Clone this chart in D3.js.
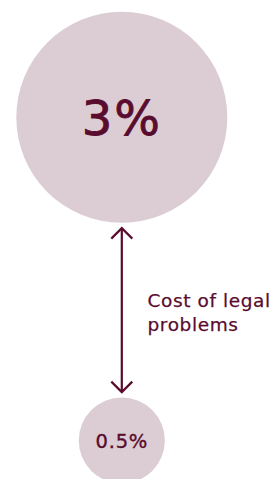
<!DOCTYPE html>
<html>
<head>
<meta charset="utf-8">
<script src="https://cdn.jsdelivr.net/npm/d3@7"></script>
<style>
  body { margin: 0; background: #fff; }
  svg { display: block; }
  text { font-family: "DejaVu Sans", sans-serif; }
</style>
</head>
<body>
<svg id="chart"></svg>
<script>
// ---- DATA ---- //
const categories = ["current", "reduced"];
const values = [3, 0.5];
const valueLabels = ["3%", "0.5%"];
const arrowLabel = ["Cost of legal", "problems"];

// ---- THE CHART ---- //
const width = 274,
  height = 479;

const fillColor = "#dccdd4",
  inkColor = "#5a0c2e";

const svg = d3.select("#chart")
  .attr("width", width)
  .attr("height", height);

// circle area is proportional to value
const rScale = d3.scaleSqrt()
  .domain([0, d3.max(values)])
  .range([0, 105.5]);

// vertical position of each circle
const yScale = d3.scalePoint()
  .domain(categories)
  .range([117.3, 440.5]);

const cx = 121.8;

const data = categories.map((c, i) => ({cat: c, value: values[i], label: valueLabels[i]}));

svg.selectAll("circle.bubble")
  .data(data)
  .enter().append("circle")
    .attr("class", "bubble")
    .attr("cx", cx)
    .attr("cy", d => yScale(d.cat))
    .attr("r", d => rScale(d.value))
    .style("fill", fillColor);

// value labels inside circles
svg.selectAll("text.value")
  .data(data)
  .enter().append("text")
    .attr("class", "value")
    .attr("x", cx)
    .attr("y", d => yScale(d.cat))
    .attr("dy", "0.36em")
    .attr("text-anchor", "middle")
    .style("font-size", d => (d.value >= 1 ? 48 : 19.5) + "px")
    .style("letter-spacing", d => (d.value >= 1 ? 2 : 0.8) + "px")
    .style("fill", inkColor)
    .style("stroke", inkColor)
    .style("stroke-width", d => d.value >= 1 ? 0.9 : 0.35)
    .text(d => d.label);

// ---- THE ARROW ---- //
const gap = 5.3;
const yTop = yScale(categories[0]) + rScale(values[0]) + gap,
  yBottom = yScale(categories[1]) - rScale(values[1]) - gap;

const arrow = svg.append("g")
  .style("stroke", inkColor)
  .style("stroke-width", 2.2)
  .style("fill", "none")
  .style("stroke-linecap", "butt");

arrow.append("line")
  .attr("x1", cx).attr("x2", cx)
  .attr("y1", yTop + 1).attr("y2", yBottom - 1);

const head = 10.5;
arrow.append("path")
  .attr("d", d3.line()([[cx - head, yTop + head], [cx, yTop], [cx + head, yTop + head]]));
arrow.append("path")
  .attr("d", d3.line()([[cx - head, yBottom - head], [cx, yBottom], [cx + head, yBottom - head]]));

// arrow label
const yMid = (yTop + yBottom) / 2;
svg.append("text")
  .attr("x", 147.5)
  .attr("y", yMid - 3)
  .style("font-size", "18.5px")
  .style("letter-spacing", "0.6px")
  .style("fill", inkColor)
  .style("stroke", inkColor)
  .style("stroke-width", 0.25)
  .selectAll("tspan")
  .data(arrowLabel)
  .enter().append("tspan")
    .attr("x", 147.5)
    .attr("dy", (d, i) => i === 0 ? 0 : 24)
    .text(d => d);
</script>
</body>
</html>
